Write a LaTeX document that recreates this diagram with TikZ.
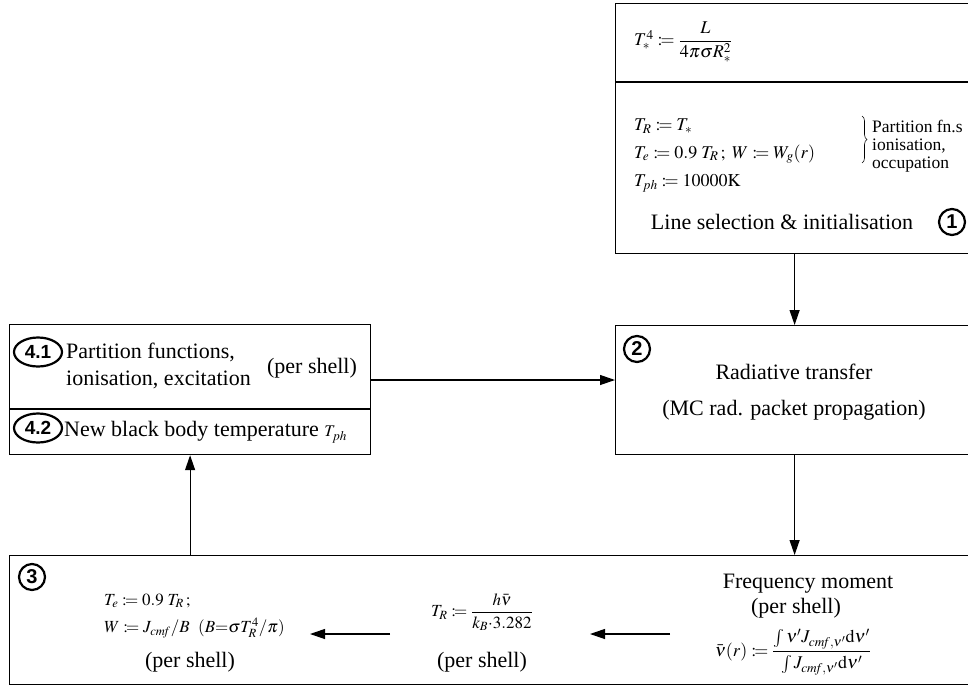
\documentclass[tikz,border=0pt]{standalone}
\usepackage{amsmath}
\usepackage{mathptmx}
\usepackage[no-math]{fontspec}
\setmainfont{Liberation Serif}
\newfontfamily\numfont{Liberation Sans}
\usetikzlibrary{arrows.meta,calc,shapes.geometric,decorations.pathreplacing}
\newcommand\defeq{\mathrel{:\!=}}
\begin{document}
\begin{tikzpicture}[x=1pt,y=-1pt,
  box/.style={draw, line width=1.2pt, rectangle, inner sep=0pt, anchor=north west},
  flow/.style={-{Triangle[length=15pt,width=10pt]}, line width=1.2pt},
  big/.style={font=\fontsize{22}{27}\selectfont, inner sep=0pt},
  eq/.style={font=\fontsize{17}{21}\selectfont, inner sep=0pt},
  eqb/.style={font=\fontsize{18}{22}\selectfont, inner sep=0pt},
  small/.style={font=\fontsize{17.5}{18}\selectfont, inner sep=0pt, align=left},
  num/.style={draw, circle, line width=2.2pt, inner sep=0pt, minimum size=26pt,
    font=\numfont\bfseries\fontsize{20}{20}\selectfont},
  numell/.style={draw, ellipse, line width=2.2pt, inner sep=0pt, minimum width=48pt,
    minimum height=29pt, font=\numfont\bfseries\fontsize{19}{19}\selectfont}]
\useasboundingbox (0,0) rectangle (968,686);

% boxes
\node[box, minimum width=358pt, minimum height=250pt] (b1) at (615,3) {};
\node[box, minimum width=358pt, minimum height=129pt] (b2) at (615,325) {};
\node[box, minimum width=361pt, minimum height=130pt] (b4) at (9,324) {};
\node[box, minimum width=964pt, minimum height=129pt] (b3) at (9,555) {};
\draw[line width=1.2pt] (b1.west |- 0,82) -- (b1.east |- 0,82);
\draw[line width=1.2pt] (b4.west |- 0,409) -- (b4.east |- 0,409);

% step 1: initialisation
\node[eqb, anchor=west] (t1) at (634,42) {$T_*^4\defeq\dfrac{L}{4\pi\sigma R_*^2}$};
\node[eqb, anchor=west] (t2) at (634,126) {$T_R\defeq T_*$};
\node[eqb, anchor=west] (t3) at (634,154) {$T_e\defeq 0.9\;T_R\,;\ W\defeq W_g(r)$};
\node[eqb, anchor=west] (t4) at (634,183) {$T_{ph}\defeq 10000\mathrm{K}$};
\draw[line width=0.6pt, decorate, decoration={brace, amplitude=5pt}] (862,116) -- (862,163);
\node[small, anchor=west] (pf) at (872,146) {Partition fn.s\\ionisation,\\occupation};
\node[big] (l1) at (782,222) {Line selection \& initialisation};
\node[num] (n1) at (952,222) {1};

% step 2: radiative transfer
\node[num] (n2) at (637,349) {2};
\node[big] (r1) at (794,372) {Radiative transfer};
\node[big] (r2) at (794,410) {(MC rad. packet propagation)};

% step 4: partition functions and photospheric temperature
\node[numell] (n41) at (38,352) {4.1};
\node[big, anchor=west, align=left] (p1) at (66,366) {Partition functions,\\ionisation, excitation};
\node[big] (p2) at (312,368) {(per shell)};
\node[numell] (n42) at (38,428) {4.2};
\node[big, anchor=west] (p3) at (64,432) {New black body temperature $\scriptstyle T_{ph}$};

% step 3: temperatures and dilution factor
\node[num] (n3) at (32,577) {3};
\node[eq, anchor=west] (e1) at (104,601) {$T_e\defeq 0.9\;T_R\,;$};
\node[eq, anchor=west] (e2) at (104,628) {$W\defeq J_{\mathit{cmf}}/B\ \ (B{=}\sigma T_R^4/\pi)$};
\node[big] (e3) at (190,662) {(per shell)};
\node[eq] (m1) at (482,612) {$T_R\defeq\dfrac{h\bar\nu}{k_B{\cdot}3.282}$};
\node[big] (m2) at (482,662) {(per shell)};
\node[big] (f1) at (808,584) {Frequency moment};
\node[big] (f2) at (796,608) {(per shell)};
\node[eqb] (f3) at (793,652) {$\bar\nu(r)\defeq\dfrac{\int\nu' J_{\mathit{cmf},\nu'}\mathrm{d}\nu'}{\int J_{\mathit{cmf},\nu'}\mathrm{d}\nu'}$};

% connectors
\coordinate (m41) at ([yshift=-56pt]b4.north east);
\coordinate (fa) at (670,634);
\coordinate (fb) at (590,634);
\coordinate (ta) at (390,634);
\coordinate (tb) at (310,634);
\draw[flow] (b1.south) -- (b2.north);
\draw[flow] (b2.south) -- (b3.north -| b2.south);
\draw[flow] (b3.north -| b4.south) -- (b4.south);
\draw[flow] (m41) -- (m41 -| b2.west);
\draw[flow] (fa) -- (fb);
\draw[flow] (ta) -- (tb);
\end{tikzpicture}
\end{document}
